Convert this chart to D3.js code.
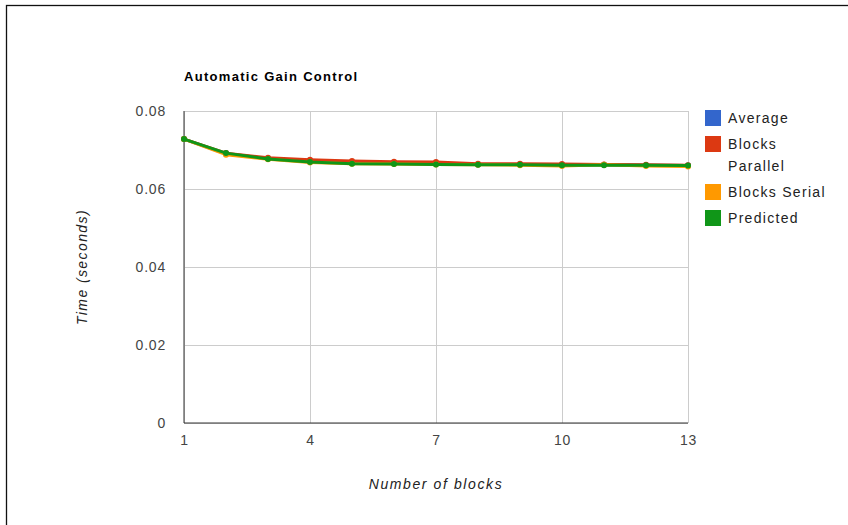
<!DOCTYPE html>
<html>
<head>
<meta charset="utf-8">
<script src="https://cdn.jsdelivr.net/npm/d3@7"></script>
<style>
  html, body { margin: 0; padding: 0; background: #fff; }
  svg { display: block; font-family: "Liberation Sans", Arial, sans-serif; }
</style>
</head>
<body>
<svg id="chart" width="848" height="525"></svg>
<script>
// Number of blocks (x axis)
const blocks = [1, 2, 3, 4, 5, 6, 7, 8, 9, 10, 11, 12, 13];

// Execution time in seconds for each series
const average        = [0.0728, 0.0690, 0.0678, 0.0671, 0.0668, 0.0667, 0.0666, 0.0663, 0.0663, 0.0662, 0.0662, 0.0661, 0.0660];
const blocksParallel = [0.0728, 0.0692, 0.0680, 0.0675, 0.0672, 0.0670, 0.0669, 0.0665, 0.0665, 0.0664, 0.0663, 0.0662, 0.0661];
const blocksSerial   = [0.0728, 0.0688, 0.0676, 0.0668, 0.0665, 0.0664, 0.0663, 0.0662, 0.0661, 0.0659, 0.0662, 0.0659, 0.0658];
const predicted      = [0.0728, 0.0692, 0.0677, 0.0669, 0.0665, 0.0664, 0.0663, 0.0662, 0.0662, 0.0661, 0.0661, 0.0661, 0.0660];

const seriesNames  = ["Average", "Blocks Parallel", "Blocks Serial", "Predicted"];
const seriesColors = ["#3366cc", "#dc3912", "#ff9900", "#109618"];
const yTicks = [0, 0.02, 0.04, 0.06, 0.08];
const xTicks = [1, 4, 7, 10, 13];

const seriesValues = [average, blocksParallel, blocksSerial, predicted];

const svg = d3.select("#chart");

// Outer frame
svg.append("rect")
  .attr("x", 6.5).attr("y", 5.5)
  .attr("width", 900).attr("height", 600)
  .attr("fill", "none").attr("stroke", "#111").attr("stroke-width", 1.3);

const plot = { left: 184, right: 688, top: 111, bottom: 423 };

const x = d3.scaleLinear().domain([1, 13]).range([plot.left, plot.right]);
const y = d3.scaleLinear().domain([0, 0.08]).range([plot.bottom, plot.top]);

// Horizontal gridlines
svg.append("g")
  .attr("transform", `translate(${plot.left},0)`)
  .call(d3.axisLeft(y).tickValues(yTicks).tickSize(-(plot.right - plot.left)).tickFormat(""))
  .call(g => g.select(".domain").remove())
  .call(g => g.selectAll("line").attr("stroke", "#cccccc"));

// Vertical gridlines
svg.append("g")
  .attr("transform", `translate(0,${plot.bottom})`)
  .call(d3.axisBottom(x).tickValues(xTicks).tickSize(-(plot.bottom - plot.top)).tickFormat(""))
  .call(g => g.select(".domain").remove())
  .call(g => g.selectAll("line").attr("stroke", "#cccccc"));

// Y tick labels
svg.append("g")
  .attr("transform", `translate(${plot.left},0)`)
  .call(d3.axisLeft(y).tickValues(yTicks).tickSize(0).tickPadding(18)
    .tickFormat(d => d === 0 ? "0" : d3.format(".2f")(d)))
  .call(g => g.select(".domain").remove())
  .call(g => g.selectAll("text")
    .attr("fill", "#444").style("font-size", "14px").style("letter-spacing", "0.8px")
    .style("font-family", "'Liberation Sans', Arial, sans-serif"));

// X tick labels
svg.append("g")
  .attr("transform", `translate(0,${plot.bottom})`)
  .call(d3.axisBottom(x).tickValues(xTicks).tickSize(0).tickPadding(12).tickFormat(d3.format("d")))
  .call(g => g.select(".domain").remove())
  .call(g => g.selectAll("text")
    .attr("fill", "#444").style("font-size", "14px").style("letter-spacing", "0.8px")
    .style("font-family", "'Liberation Sans', Arial, sans-serif"));

// Axis baselines
svg.append("line")
  .attr("x1", plot.left).attr("x2", plot.right)
  .attr("y1", y(0)).attr("y2", y(0))
  .attr("stroke", "#333").attr("stroke-width", 1);
svg.append("line")
  .attr("x1", x(1)).attr("x2", x(1))
  .attr("y1", plot.top).attr("y2", plot.bottom)
  .attr("stroke", "#333").attr("stroke-width", 1);

// Series lines and points
const line = d3.line().x((d, i) => x(blocks[i])).y(d => y(d));

seriesValues.forEach((vals, s) => {
  svg.append("path")
    .datum(vals)
    .attr("d", line)
    .attr("fill", "none")
    .attr("stroke", seriesColors[s])
    .attr("stroke-width", 3)
    .attr("stroke-linejoin", "round");
  svg.append("g")
    .selectAll("circle")
    .data(vals)
    .join("circle")
    .attr("cx", (d, i) => x(blocks[i]))
    .attr("cy", d => y(d))
    .attr("r", 3)
    .attr("fill", seriesColors[s]);
});

// Title
svg.append("text")
  .attr("x", plot.left).attr("y", 81)
  .attr("fill", "#000")
  .style("font-size", "13px").style("font-weight", "bold").style("letter-spacing", "1.3px")
  .text("Automatic Gain Control");

// Axis titles
svg.append("text")
  .attr("x", (plot.left + plot.right) / 2).attr("y", 489)
  .attr("text-anchor", "middle")
  .attr("fill", "#222")
  .style("font-size", "14px").style("font-style", "italic").style("letter-spacing", "1.6px")
  .text("Number of blocks");

svg.append("text")
  .attr("transform", `translate(87,${(plot.top + plot.bottom) / 2}) rotate(-90)`)
  .attr("text-anchor", "middle")
  .attr("fill", "#222")
  .style("font-size", "14px").style("font-style", "italic").style("letter-spacing", "1.4px")
  .text("Time (seconds)");

// Legend
const legendRows = [
  { lines: ["Average"], y: 118 },
  { lines: ["Blocks", "Parallel"], y: 144 },
  { lines: ["Blocks Serial"], y: 192 },
  { lines: ["Predicted"], y: 218 }
];
const legend = svg.append("g");
legendRows.forEach((row, i) => {
  legend.append("rect")
    .attr("x", 705).attr("y", row.y - 8)
    .attr("width", 16).attr("height", 16)
    .attr("fill", seriesColors[i]);
  const t = legend.append("text")
    .attr("x", 728).attr("y", row.y + 5)
    .attr("fill", "#222")
    .style("font-size", "14px").style("letter-spacing", "1.3px");
  row.lines.forEach((ln, j) => {
    t.append("tspan").attr("x", 728).attr("dy", j === 0 ? 0 : 22).text(ln);
  });
});
</script>
</body>
</html>
